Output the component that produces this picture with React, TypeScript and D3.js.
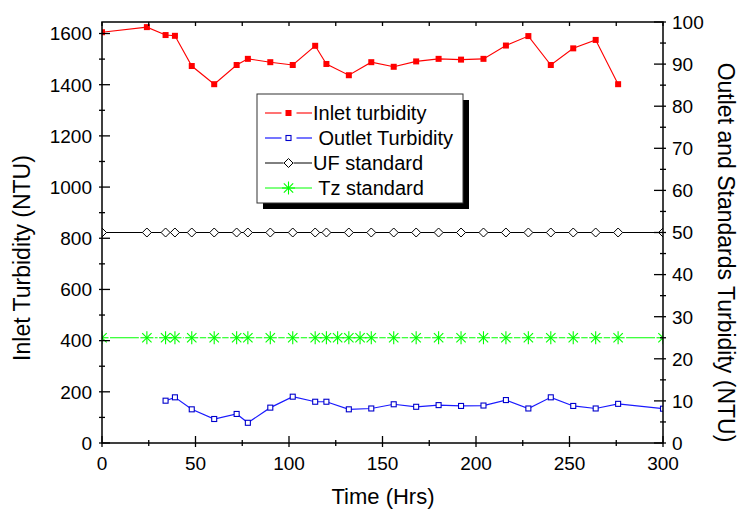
import React from "react";
import * as d3 from "d3";

// ---- data ----
const inletTime = [0, 24, 34, 39, 48, 60, 72, 78, 90, 102, 114, 120, 132, 144, 156, 168, 180, 192, 204, 216, 228, 240, 252, 264, 276];
const inletValues = [1605, 1625, 1594, 1591, 1473, 1402, 1477, 1501, 1488, 1477, 1552, 1481, 1437, 1488, 1470, 1491, 1501, 1498, 1501, 1553, 1590, 1477, 1542, 1575, 1402];

const outletTime = [34, 39, 48, 60, 72, 78, 90, 102, 114, 120, 132, 144, 156, 168, 180, 192, 204, 216, 228, 240, 252, 264, 276, 300];
const outletValues = [10.05, 10.85, 8.0, 5.7, 6.9, 4.8, 8.4, 11.0, 9.8, 9.8, 8.0, 8.2, 9.2, 8.6, 9.0, 8.8, 8.9, 10.2, 8.2, 10.85, 8.8, 8.2, 9.3, 8.15];

const ufTime = [0, 24, 34, 39, 48, 60, 72, 78, 90, 102, 114, 120, 132, 144, 156, 168, 180, 192, 204, 216, 228, 240, 252, 264, 276, 300];
const ufLevel = 50;
const tzTime = [0, 24, 34, 39, 48, 60, 72, 78, 90, 102, 114, 120, 126, 132, 138, 144, 156, 168, 180, 192, 204, 216, 228, 240, 252, 264, 276, 300];
const tzLevel = 25;

const xTicks = [0, 50, 100, 150, 200, 250, 300];
const leftTicks = [0, 200, 400, 600, 800, 1000, 1200, 1400, 1600];
const rightTicks = [0, 10, 20, 30, 40, 50, 60, 70, 80, 90, 100];
const legendLabels = ["Inlet turbidity", " Outlet Turbidity", "UF standard", " Tz standard"];

const X0 = 102, X1 = 663, Y0 = 22, Y1 = 443;
const FONT = "'Liberation Sans', Arial, sans-serif";
const GREEN = "#00ff00";

function Asterisk({ cx, cy, r, color }: { cx: number; cy: number; r: number; color: string }) {
  const d = r * 0.72;
  return (
    <g stroke={color} strokeWidth={1.1}>
      <line x1={cx} y1={cy - r} x2={cx} y2={cy + r} />
      <line x1={cx - r} y1={cy} x2={cx + r} y2={cy} />
      <line x1={cx - d} y1={cy - d} x2={cx + d} y2={cy + d} />
      <line x1={cx - d} y1={cy + d} x2={cx + d} y2={cy - d} />
    </g>
  );
}

function Diamond({ cx, cy, r }: { cx: number; cy: number; r: number }) {
  return (
    <path d={`M${cx},${cy - r}L${cx + r},${cy}L${cx},${cy + r}L${cx - r},${cy}Z`} fill="white" stroke="black" strokeWidth={1} />
  );
}

export default function App() {
  const x = d3.scaleLinear().domain([0, 300]).range([X0, X1]);
  const yL = d3.scaleLinear().domain([0, 1645]).range([Y1, Y0]);
  const yR = d3.scaleLinear().domain([0, 100]).range([Y1, Y0]);

  const inletPts = inletTime.map((t, i) => [x(t), yL(inletValues[i])] as [number, number]);
  const outletPts = outletTime.map((t, i) => [x(t), yR(outletValues[i])] as [number, number]);
  const line = d3.line<[number, number]>().x((d) => d[0]).y((d) => d[1]);

  const tzY = yR(tzLevel);
  const ufY = yR(ufLevel);
  const gap = 8;
  const tzSegs: [number, number][] = [];
  for (let i = 0; i < tzTime.length - 1; i++) {
    const a = x(tzTime[i]) + gap;
    const b = x(tzTime[i + 1]) - gap;
    if (b > a) tzSegs.push([a, b]);
  }

  const xMinor = d3.range(0, 301, 25);
  const leftMinor = d3.range(0, 1645, 100);
  const rightMinor = d3.range(0, 101, 5);

  const lx0 = 257, ly0 = 94, lw = 206, lh = 109;
  const rows = [113, 138, 163, 188];
  const sx0 = 265, sx1 = 312, sm = 288.5;

  return (
    <svg width={738} height={514} style={{ position: "absolute", left: 0, top: 0, background: "white" }} fontFamily={FONT}>
      <defs>
        <clipPath id="plotClip">
          <rect x={X0} y={Y0} width={X1 - X0} height={Y1 - Y0} />
        </clipPath>
      </defs>
      <rect x={0} y={0} width={738} height={514} fill="white" />

      <g clipPath="url(#plotClip)">
        {/* UF standard */}
        <line x1={x(0)} x2={x(300)} y1={ufY} y2={ufY} stroke="black" strokeWidth={1} />
        {ufTime.map((t, i) => (
          <Diamond key={"uf" + i} cx={x(t)} cy={ufY} r={4.5} />
        ))}
        {/* Tz standard */}
        {tzSegs.map((s, i) => (
          <line key={"tzs" + i} x1={s[0]} x2={s[1]} y1={tzY} y2={tzY} stroke={GREEN} strokeWidth={1} />
        ))}
        {tzTime.map((t, i) => (
          <Asterisk key={"tz" + i} cx={x(t)} cy={tzY} r={6.5} color={GREEN} />
        ))}
        {/* Outlet */}
        <path d={line(outletPts) || ""} fill="none" stroke="#1a1aff" strokeWidth={1.2} />
        {outletPts.map((p, i) => (
          <rect key={"o" + i} x={p[0] - 2.5} y={p[1] - 2.5} width={5} height={5} fill="white" stroke="#0000cc" strokeWidth={1.1} />
        ))}
        {/* Inlet */}
        <path d={line(inletPts) || ""} fill="none" stroke="#ff0000" strokeWidth={1.1} />
        {inletPts.map((p, i) => (
          <rect key={"in" + i} x={p[0] - 3} y={p[1] - 3} width={6} height={6} fill="#ff0000" />
        ))}
      </g>

      {/* frame */}
      <rect x={X0} y={Y0} width={X1 - X0} height={Y1 - Y0} fill="none" stroke="black" strokeWidth={1.5} />

      {/* bottom axis ticks */}
      {xMinor.map((t) => {
        const major = t % 50 === 0;
        return (
          <g key={"xt" + t} stroke="black" strokeWidth={1.3}>
            <line x1={x(t)} x2={x(t)} y1={Y1 - (major ? 7 : 3)} y2={Y1 + (major ? 4 : 3)} />
            <line x1={x(t)} x2={x(t)} y1={Y0} y2={Y0 + 4} />
          </g>
        );
      })}
      {xTicks.map((t) => (
        <text key={"xl" + t} x={x(t)} y={470} fontSize={19} textAnchor="middle" fill="black">
          {t}
        </text>
      ))}

      {/* left axis */}
      {leftMinor.map((v) => {
        const major = v % 200 === 0;
        return (
          <line key={"lt" + v} x1={X0 - 3} x2={X0 + (major ? 8 : 3)} y1={yL(v)} y2={yL(v)} stroke="black" strokeWidth={1.3} />
        );
      })}
      {leftTicks.map((v) => (
        <text key={"ll" + v} x={92} y={yL(v) + 6.8} fontSize={19} textAnchor="end" fill="black">
          {v}
        </text>
      ))}

      {/* right axis */}
      {rightMinor.map((v) => {
        const major = v % 10 === 0;
        return (
          <line key={"rt" + v} x1={X1 - (major ? 9 : 3)} x2={X1 + 3} y1={yR(v)} y2={yR(v)} stroke="black" strokeWidth={1.3} />
        );
      })}
      {rightTicks.map((v) => (
        <text key={"rl" + v} x={672} y={yR(v) + 6.8} fontSize={19} textAnchor="start" fill="black">
          {v}
        </text>
      ))}

      {/* axis titles */}
      <text x={383} y={504} fontSize={22} textAnchor="middle" fill="black">
        Time (Hrs)
      </text>
      <text transform={`translate(30,258) rotate(-90)`} fontSize={23} textAnchor="middle" fill="black">
        Inlet Turbidity (NTU)
      </text>
      <text transform={`translate(718,252.5) rotate(90)`} fontSize={23} textAnchor="middle" fill="black">
        Outlet and Standards Turbidity (NTU)
      </text>

      {/* legend */}
      <rect x={lx0 + 6} y={ly0 + 6} width={lw} height={lh} fill="black" />
      <rect x={lx0} y={ly0} width={lw} height={lh} fill="white" stroke="#333" strokeWidth={1} />
      {/* inlet */}
      <line x1={sx0} x2={sm - 7} y1={rows[0]} y2={rows[0]} stroke="#ff0000" strokeWidth={1.1} />
      <line x1={sm + 8} x2={sx1} y1={rows[0]} y2={rows[0]} stroke="#ff0000" strokeWidth={1.1} />
      <rect x={sm - 3} y={rows[0] - 3} width={6} height={6} fill="#ff0000" />
      {/* outlet */}
      <line x1={sx0} x2={sm - 7} y1={rows[1]} y2={rows[1]} stroke="#1a1aff" strokeWidth={1.2} />
      <line x1={sm + 8} x2={sx1} y1={rows[1]} y2={rows[1]} stroke="#1a1aff" strokeWidth={1.2} />
      <rect x={sm - 2.5} y={rows[1] - 2.5} width={5} height={5} fill="white" stroke="#0000cc" strokeWidth={1.1} />
      {/* UF */}
      <line x1={sx0} x2={sm - 5} y1={rows[2]} y2={rows[2]} stroke="black" strokeWidth={1} />
      <line x1={sm + 5} x2={sx1} y1={rows[2]} y2={rows[2]} stroke="black" strokeWidth={1} />
      <Diamond cx={sm} cy={rows[2]} r={4.5} />
      {/* Tz */}
      <line x1={sx0} x2={sx1} y1={rows[3]} y2={rows[3]} stroke={GREEN} strokeWidth={1} />
      <Asterisk cx={sm} cy={rows[3]} r={6.5} color={GREEN} />
      {legendLabels.map((l, i) => (
        <text key={"lg" + i} x={313} y={rows[i] + 7} fontSize={20} fill="black" style={{ whiteSpace: "pre" }}>
          {l}
        </text>
      ))}
    </svg>
  );
}
